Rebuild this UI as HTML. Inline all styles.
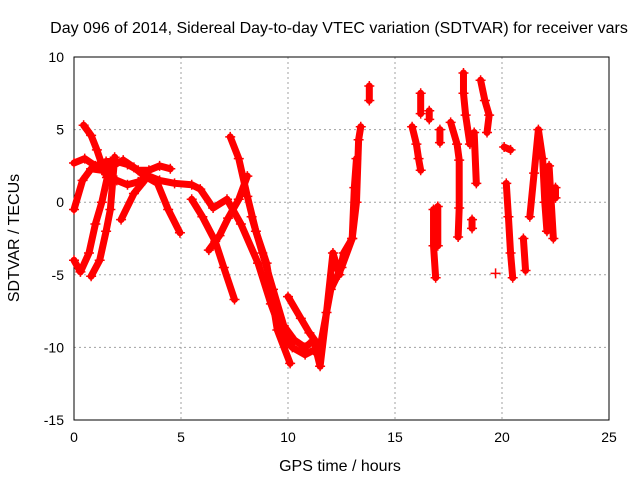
<!DOCTYPE html>
<html><head><meta charset="utf-8"><style>
body{margin:0;background:#fff;}
svg{font-family:"Liberation Sans",sans-serif;font-size:14px;}
.ttl{font-size:16px;}
</style></head><body>
<svg id="chart" width="640" height="480">
<rect x="0" y="0" width="640" height="480" fill="#fff"/>
<text class="ttl" x="339" y="33" text-anchor="middle">Day 096 of 2014, Sidereal Day-to-day VTEC variation (SDTVAR) for receiver vars</text>
<g id="grid"></g>
<g id="axes"></g>
<g id="series"></g>
<text class="ttl" x="340" y="471" text-anchor="middle">GPS time / hours</text>
<text class="ttl" transform="translate(19,238) rotate(-90)" text-anchor="middle">SDTVAR / TECUs</text>
</svg>
<script>
const xTicks=[0,5,10,15,20,25];
const yTicks=[10,5,0,-5,-10,-15];
const trackA=[[0,2.7],[0.5,3],[1,2.5],[1.5,2.8],[2,2.8],[2.5,2.6],[3,2.2],[3.5,2.2],[4,2.5],[4.5,2.3]];
const trackB=[[0.45,5.3],[0.8,4.6],[1.07,3.6],[1.3,2.6],[1.54,1.7],[2,1.5],[2.5,1.2],[3,1.4],[3.5,1.8],[4,1.5],[4.7,1.3],[5.5,1.2],[5.9,0.9],[6.5,-0.4],[7.15,0.2],[7.8,-1.5],[8.6,-4.2],[9.2,-7],[9.7,-9],[10.2,-10],[10.8,-10.5],[11.2,-10.2]];
const trackC=[[0,-0.5],[0.4,1.5],[0.8,2.3],[1.3,2.2],[1.8,2.5],[2.3,2.9],[2.8,2.4],[3.3,1.8],[3.9,1.3],[4.4,-0.5],[4.95,-2.1]];
const trackD=[[7.3,4.5],[7.7,3],[8.1,0.4],[8.5,-2],[9,-4.2],[9.5,-8.8],[10.1,-11.1]];
const trackE=[[5.5,0.2],[6,-1],[6.6,-2.7],[7,-4.5],[7.5,-6.7]];
const trackF=[[0,-4],[0.3,-4.8],[0.7,-3.5],[1,-1.5],[1.3,0],[1.6,2]];
const trackF2=[[0.8,-5.1],[1.2,-4],[1.5,-2],[1.7,-0.5],[1.9,3.1]];
const trackG=[[2.2,-1.2],[2.8,0.6],[3.3,1.5]];
const trackG2=[[6.3,-3.3],[6.8,-2.3],[7.2,-1.1],[7.7,0.2],[8.1,1.8]];
const trackH=[[8.3,-1],[8.8,-3.5],[9.3,-6],[9.8,-8.5],[10.3,-9.5],[10.8,-10],[11.2,-9.5],[11.5,-11.3],[11.8,-7.6],[12.1,-3.5],[12.4,-5],[12.6,-3.5],[13,-2.5],[13.2,0],[13.3,4.3],[13.4,5.2]];
const trackI=[[10,-6.5],[10.6,-8],[11,-9],[11.5,-10],[12,-6],[12.5,-4.5],[13,-2.5],[13.1,1],[13.2,3]];
const trackJ=[[13.8,8],[13.8,7]];
const trackK=[[15.8,5.2],[16,4],[16.1,3],[16.2,2.2]];
const trackL=[[16.8,-0.5],[16.8,-3],[16.9,-5.2]];
const trackL2=[[17,-0.3],[17,-3]];
const trackM=[[17.1,5],[17.1,4.1]];
const trackN=[[16.2,7.5],[16.2,6.1]];
const trackN2=[[16.6,6.3],[16.6,5.7]];
const trackO=[[17.6,5.5],[17.9,4],[18,2.9],[18,-0.4],[17.95,-2.4]];
const trackO2=[[18.2,8.9],[18.2,7.5],[18.3,6],[18.5,4]];
const trackO3=[[18.7,4.8],[18.8,1.3]];
const trackO4=[[18.6,-1.2],[18.6,-1.8]];
const trackP=[[19,8.4],[19.2,7],[19.4,6],[19.3,4.8]];
const trackQ=[[19.7,-4.9]];
const trackR=[[20.1,3.8],[20.4,3.6]];
const trackS=[[20.2,1.3],[20.3,-1],[20.4,-3.5],[20.5,-5.2]];
const trackS2=[[21,-2.5],[21.1,-4.7]];
const trackT=[[21.3,-1],[21.5,2],[21.7,5],[21.9,3],[22,0],[22.1,-2]];
const trackT2=[[22.2,2.5],[22.4,-2.5]];
const trackT3=[[22.5,1],[22.5,0.3]];
const tracks=[trackA,trackB,trackC,trackD,trackE,trackF,trackF2,trackG,trackG2,trackH,trackI,trackJ,trackK,trackL,trackL2,trackM,trackN,trackN2,trackO,trackO2,trackO3,trackO4,trackP,trackQ,trackR,trackS,trackS2,trackT,trackT2,trackT3];
const X0=74,X1=609,Y0=420,Y1=57;
const xs=t=>X0+(t-0)/(25-0)*(X1-X0);
const ys=v=>Y0-(v+15)/(25)*(Y0-Y1);
const NS="http://www.w3.org/2000/svg";
function mk(tag,attrs,parent){const e=document.createElementNS(NS,tag);for(const k in attrs)e.setAttribute(k,attrs[k]);parent.appendChild(e);return e;}
const grid=document.getElementById('grid'),axes=document.getElementById('axes'),ser=document.getElementById('series');
xTicks.forEach(t=>{
 const g=mk('line',{x1:xs(t),x2:xs(t),y1:Y1,y2:Y0,stroke:'#a0a0a0','stroke-dasharray':'2,3','stroke-width':1},grid);
 
 
 const l=mk('text',{x:xs(t),y:Y0+22,'text-anchor':'middle'},axes);l.textContent=t;
 
 
});
yTicks.forEach(v=>{
 const g=mk('line',{x1:X0,x2:X1,y1:ys(v),y2:ys(v),stroke:'#a0a0a0','stroke-dasharray':'2,3','stroke-width':1},grid);
 
 
 const l=mk('text',{x:X0-10,y:ys(v)+5,'text-anchor':'end'},axes);l.textContent=v;
 
 
});
const fr=mk('rect',{x:X0,y:Y1,width:X1-X0,height:Y0-Y1,fill:'none',stroke:'#000','stroke-width':1},axes);


tracks.forEach(tr=>{
 if(tr.length>1){
  const p=mk('polyline',{points:tr.map(d=>xs(d[0])+','+ys(d[1])).join(' '),fill:'none',stroke:'#ff0000','stroke-width':7,'stroke-linejoin':'round','stroke-linecap':'round'},ser);
  
  
 }
 tr.forEach(d=>{
  const x=xs(d[0]),y=ys(d[1]);
  const m=mk('path',{d:`M${x-5},${y}H${x+5}M${x},${y-5}V${y+5}`,stroke:'#ff0000','stroke-width':1.5},ser);
  
  
 });
});
</script>
</body></html>
